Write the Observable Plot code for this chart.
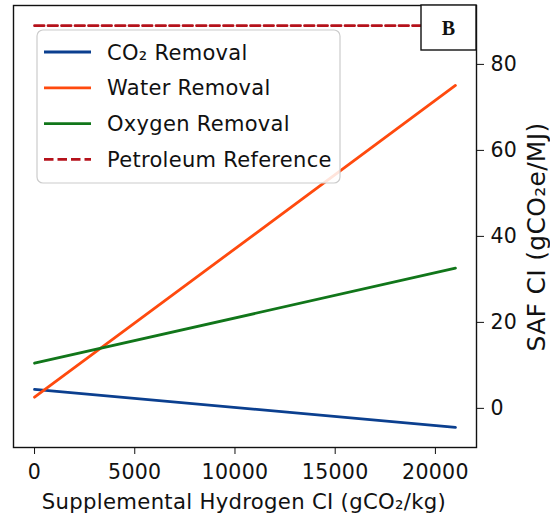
<!DOCTYPE html>
<html>
<head>
<meta charset="utf-8">
<script src="https://cdn.jsdelivr.net/npm/d3@7"></script>
<script src="https://cdn.jsdelivr.net/npm/@observablehq/plot@0.6"></script>
<style>
  html, body { margin: 0; padding: 0; background: #fff; }
  #chart svg { display: block; }
</style>
</head>
<body>
<div id="chart"></div>
<script>
// Supplemental hydrogen carbon intensity (gCO2/kg), endpoints of each sweep
const hydrogenCI = [0, 21000];

// SAF carbon intensity (gCO2e/MJ) at each end of the sweep
const co2Removal = [4.4, -4.4];
const waterRemoval = [2.6, 75.1];
const oxygenRemoval = [10.5, 32.6];
const petroleumReference = 89;

const seriesNames = ["CO₂ Removal", "Water Removal", "Oxygen Removal", "Petroleum Reference"];
const seriesColors = ["#0b3f8f", "#ff4a0e", "#11761a", "#b5121b"];

const xTicks = [0, 5000, 10000, 15000, 20000];
const yTicks = [0, 20, 40, 60, 80];

const xLabel = "Supplemental Hydrogen CI (gCO₂/kg)";
const yLabel = "SAF CI (gCO₂e/MJ)";

const rows = [];
[co2Removal, waterRemoval, oxygenRemoval].forEach((vals, i) => {
  hydrogenCI.forEach((h, j) => rows.push({series: seriesNames[i], h, ci: vals[j]}));
});
const refRows = hydrogenCI.map(h => ({series: seriesNames[3], h, ci: petroleumReference}));

const font = "'DejaVu Sans', sans-serif";
const ink = "#111";

const chart = Plot.plot({
  width: 550,
  height: 519,
  marginLeft: 13,
  marginRight: 74,
  marginTop: 5,
  marginBottom: 72,
  style: {fontFamily: font, fontSize: "20.5px", color: ink, background: "#fff", letterSpacing: "0.3px"},
  x: {domain: [-1050, 22050]},
  y: {domain: [-9.1, 93.7]},
  color: {domain: seriesNames, range: seriesColors},
  marks: [
    Plot.line(rows, {x: "h", y: "ci", z: "series", stroke: "series", strokeWidth: 2.8}),
    Plot.line(refRows, {x: "h", y: "ci", stroke: "series", strokeWidth: 2.8, strokeDasharray: "9.5,4"}),
    Plot.axisX({ticks: xTicks, tickFormat: d => String(d), tickSize: 7, tickPadding: 10, label: null}),
    Plot.axisY({anchor: "right", ticks: yTicks, tickSize: 7, tickPadding: 7, label: null}),
    Plot.frame({stroke: ink, strokeWidth: 1.4})
  ]
});

document.getElementById("chart").appendChild(chart);

const svg = d3.select(chart);
const g = svg.append("g").attr("font-family", font).attr("fill", ink).attr("text-anchor", "start");

// Axis titles
g.append("text").attr("x", 244).attr("y", 509).attr("text-anchor", "middle")
  .attr("font-size", 21.2).text(xLabel);
g.append("text").attr("transform", "translate(545,237) rotate(-90)").attr("text-anchor", "middle")
  .attr("font-size", 25).text(yLabel);

// Legend in the upper-left corner of the plot area
const lg = g.append("g").attr("transform", "translate(37,30)");
lg.append("rect")
  .attr("width", 303).attr("height", 153).attr("rx", 6)
  .attr("fill", "#fff").attr("fill-opacity", 0.85)
  .attr("stroke", "#cccccc").attr("stroke-width", 1.2);
seriesNames.forEach((name, i) => {
  const y = 22 + i * 35.8;
  lg.append("line")
    .attr("x1", 7).attr("x2", 54).attr("y1", y).attr("y2", y)
    .attr("stroke", seriesColors[i]).attr("stroke-width", 2.8)
    .attr("stroke-dasharray", i === 3 ? "9.5,4" : null);
  lg.append("text").attr("x", 70).attr("y", y).attr("dy", "0.36em")
    .attr("font-size", 21).attr("text-anchor", "start").text(name);
});

// Panel tag
const tag = g.append("g").attr("transform", "translate(421,5)");
tag.append("rect").attr("width", 55).attr("height", 45)
  .attr("fill", "#fff").attr("stroke", ink).attr("stroke-width", 1.4);
tag.append("text").attr("x", 27.5).attr("y", 23).attr("dy", "0.34em")
  .attr("text-anchor", "middle").attr("font-family", "'Liberation Serif', serif")
  .attr("font-weight", "bold").attr("font-size", 20).text("B");
</script>
</body>
</html>
